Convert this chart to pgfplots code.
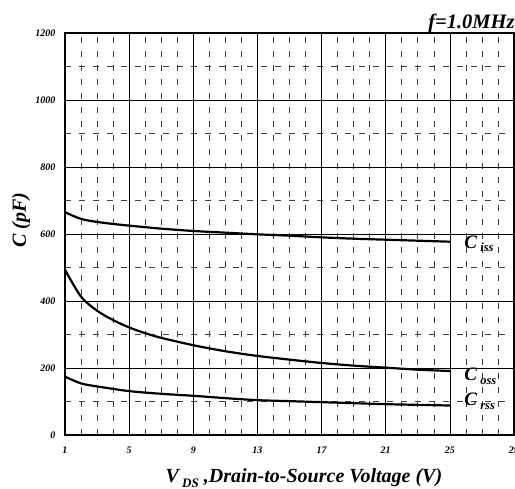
\documentclass[border=0pt]{standalone}
\usepackage{fontspec}
\setmainfont{Liberation Serif}
\usepackage{pgfplots}
\pgfplotsset{compat=1.18}
\begin{document}
\begin{tikzpicture}
\begin{axis}[
    at={(0,0)}, anchor=south west,
    scale only axis,
    width=449pt, height=402pt,
    xmin=1, xmax=29, ymin=0, ymax=1200,
    xtick={1,5,...,29},
    ytick={0,200,...,1200},
    minor xtick={2,3,4,6,7,8,10,11,12,14,15,16,18,19,20,22,23,24,26,27,28},
    minor ytick={100,300,...,1100},
    grid=both,
    major grid style={black, line width=0.6pt},
    minor grid style={black!75, line width=0.6pt, dash pattern=on 6pt off 8pt},
    major tick length=0pt, minor tick length=0pt,
    axis line style={line width=2pt},
    /pgf/number format/assume math mode=true,
    /pgf/number format/1000 sep={},
    tick label style={font=\bfseries\itshape\fontsize{10}{11}\selectfont},
    xticklabel style={yshift=-8pt},
    yticklabel style={xshift=-6pt},
    xlabel={\fontsize{20}{22}\selectfont\bfseries\itshape V\,\raisebox{-0.45ex}{\fontsize{13}{14}\selectfont DS}\ ,Drain-to-Source Voltage (V)},
    ylabel={\fontsize{20}{22}\selectfont\bfseries\itshape C (pF)},
    xlabel style={at={(0.532,0)}, anchor=base, yshift=-48pt},
    ylabel style={at={(0,0.535)}, anchor=base, yshift=39pt},
    clip=false,
]
% C_iss
\addplot[black, line width=2.2pt, smooth] coordinates {
    (1,665) (2,645) (3,636) (4,630) (5,625) (7,616) (9,609) (11,604) (13,599)
    (15,595) (17,590) (19,586) (21,583) (23,580) (25,577)
};
% C_oss
\addplot[black, line width=2.2pt, smooth] coordinates {
    (1,493) (2,413) (3,371) (4,343) (5,321) (6,304) (7,290) (9,268) (11,250)
    (13,236) (15,225) (17,215) (19,207) (21,201) (23,195) (25,191)
};
% C_rss
\addplot[black, line width=2.2pt, smooth] coordinates {
    (1,174) (2,154) (3,145) (5,131) (7,123) (9,117) (11,110) (13,104)
    (15,101) (17,98) (19,95) (21,92) (23,90) (25,88)
};
\node[anchor=base west, font=\bfseries\itshape\fontsize{19}{20}\selectfont, inner sep=0pt]
    at (axis cs:25.9,558) {C\,\raisebox{-0.45ex}{\fontsize{12.5}{13}\selectfont iss}};
\node[anchor=base west, font=\bfseries\itshape\fontsize{19}{20}\selectfont, inner sep=0pt]
    at (axis cs:25.9,163) {C\,\raisebox{-0.45ex}{\fontsize{12.5}{13}\selectfont oss}};
\node[anchor=base west, font=\bfseries\itshape\fontsize{19}{20}\selectfont, inner sep=0pt]
    at (axis cs:25.9,87) {C\,\raisebox{-0.45ex}{\fontsize{12.5}{13}\selectfont rss}};
\node[anchor=base east, font=\bfseries\itshape\fontsize{20.5}{22}\selectfont, inner sep=0pt]
    at (axis cs:29.05,1212) {f=1.0MHz};
\end{axis}
\pgfresetboundingbox
\useasboundingbox (-65pt,-54pt) rectangle (450pt,435pt);
\end{tikzpicture}
\end{document}
